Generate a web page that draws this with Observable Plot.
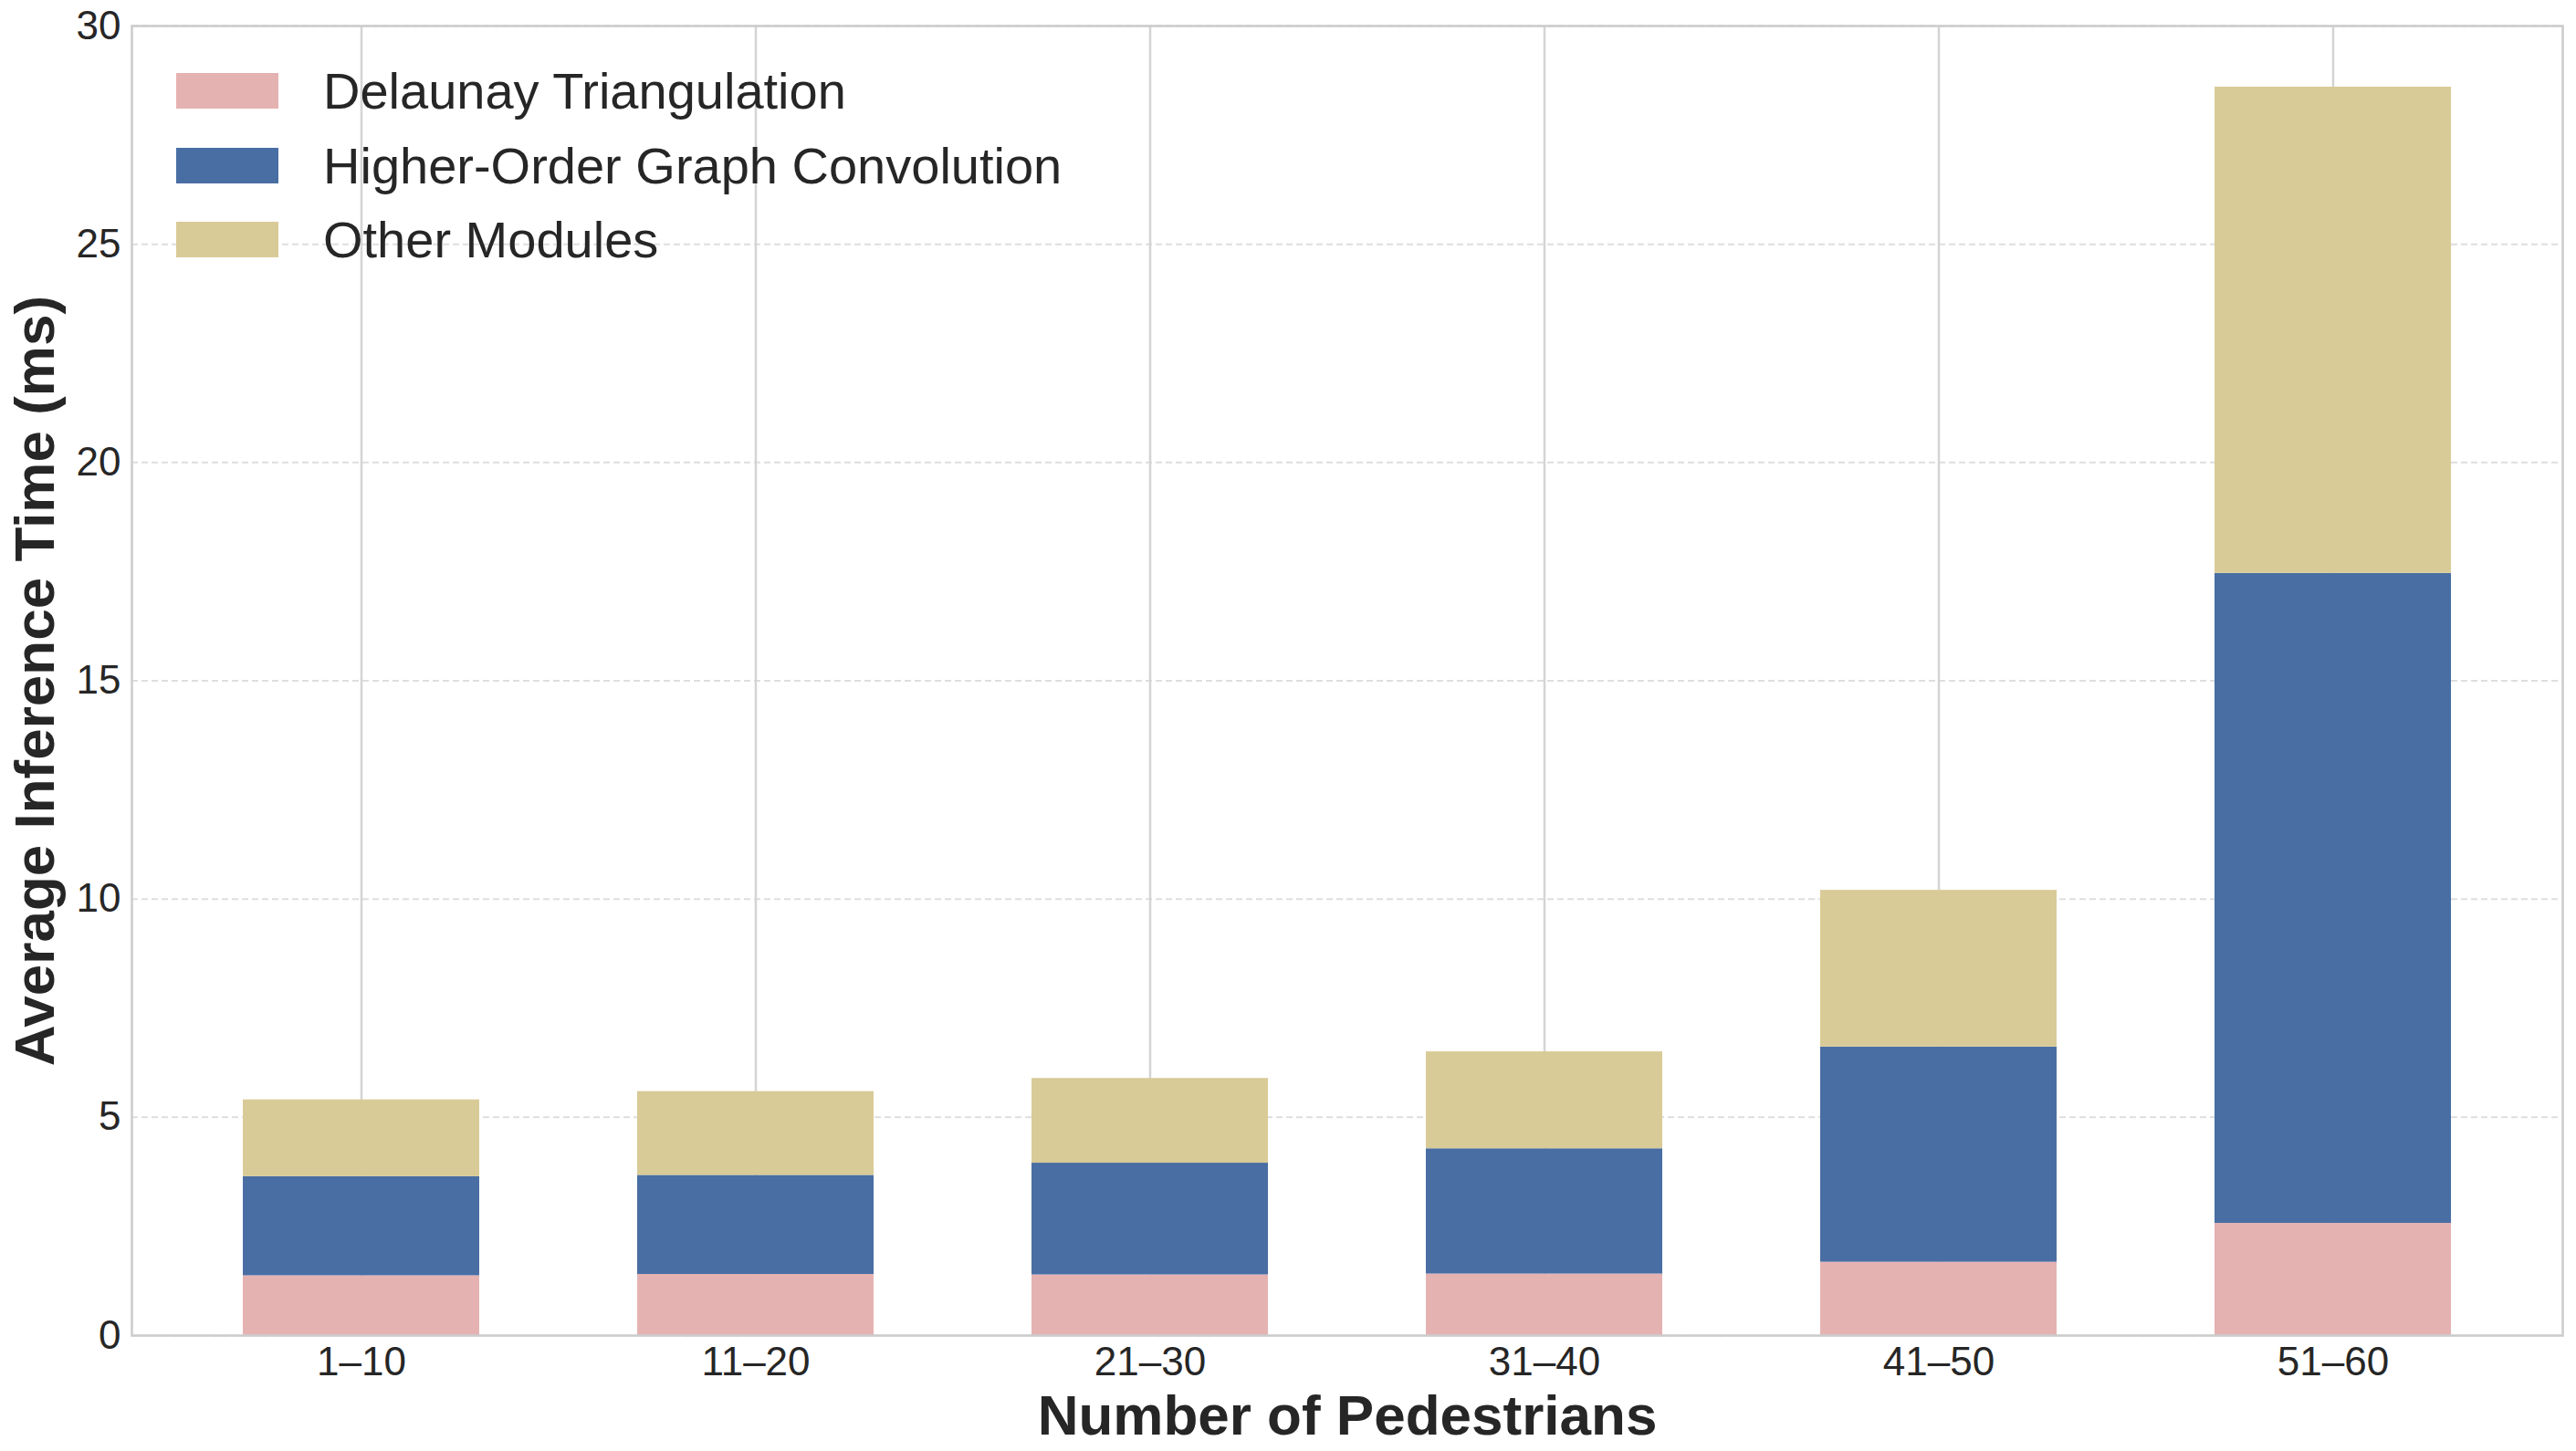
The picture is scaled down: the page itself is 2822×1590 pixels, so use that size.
<!DOCTYPE html>
<html>
<head>
<meta charset="utf-8">
<script src="https://cdn.jsdelivr.net/npm/d3@7"></script>
<script src="https://cdn.jsdelivr.net/npm/@observablehq/plot@0.6"></script>
<style>
  html, body { margin: 0; padding: 0; background: #ffffff; }
  #wrap { position: relative; width: 2822px; height: 1590px; overflow: hidden; }
  #legend { position: absolute; left: 193px; top: 80px; }
  g[aria-label="x-axis label"] text, g[aria-label="y-axis label"] text { font-size: 62px; font-weight: 700; }
  .lg-swatches { font-family: "Liberation Sans", Arial, sans-serif !important; font-size: 56px !important; color: #262626 !important; margin: 0 !important; min-height: 0 !important; }
  .lg-swatch { display: flex !important; align-items: center !important; height: 39px !important; padding-bottom: 42.5px !important; margin: 0 !important; line-height: normal !important; overflow: visible !important; }
  .lg-swatch > * { overflow: visible !important; line-height: normal !important; }
  .lg-swatch > svg { margin-right: 49px !important; flex-shrink: 0; }
</style>
</head>
<body>
<div id="wrap"><div id="chart"></div><div id="legend"></div></div>
<script>
const categories = ["1–10", "11–20", "21–30", "31–40", "41–50", "51–60"];
const seriesNames = ["Delaunay Triangulation", "Higher-Order Graph Convolution", "Other Modules"];
const delaunay = [1.37, 1.40, 1.39, 1.41, 1.68, 2.57];
const hogc     = [2.27, 2.27, 2.56, 2.87, 4.93, 14.89];
const other    = [1.76, 1.92, 1.94, 2.22, 3.59, 11.14];
const seriesColors = ["#e5b2b2", "#496ea3", "#d9cb97"];
const yTicks = [0, 5, 10, 15, 20, 25, 30];

const seriesValues = [delaunay, hogc, other];
const rows = [];
categories.forEach((c, i) => {
  seriesValues.forEach((arr, j) => rows.push({category: c, series: seriesNames[j], value: arr[i]}));
});

const fontFamily = '"Liberation Sans", Arial, sans-serif';

const chart = Plot.plot({
  width: 2822,
  height: 1590,
  marginTop: 28,
  marginRight: 15,
  marginBottom: 127,
  marginLeft: 144,
  style: {fontFamily, fontSize: "44px", color: "#262626", background: "#ffffff", overflow: "visible"},
  x: {type: "band", domain: categories, paddingInner: 0.4, paddingOuter: 0.28, align: 0.5},
  y: {domain: [0, 30]},
  color: {domain: seriesNames, range: seriesColors},
  marks: [
    Plot.gridY(yTicks, {stroke: "#dedede", strokeOpacity: 1, strokeWidth: 2, strokeDasharray: "7,4"}),
    Plot.gridX({stroke: "#d4d4d4", strokeOpacity: 1, strokeWidth: 2.5}),
    Plot.barY(rows, {x: "category", y: "value", fill: "series"}),
    Plot.frame({stroke: "#cccccc", strokeWidth: 2.5}),
    Plot.axisX({tickSize: 0, tickPadding: 12, label: "Number of Pedestrians", labelAnchor: "center", labelOffset: 108, labelArrow: "none", fill: "#262626"}),
    Plot.axisY(yTicks, {tickSize: 0, tickPadding: 12, label: "Average Inference Time (ms)", labelAnchor: "center", labelOffset: 130, labelArrow: "none", fill: "#262626"})
  ]
});
document.getElementById("chart").appendChild(chart);

const legend = Plot.legend({
  color: {domain: seriesNames, range: seriesColors},
  legend: "swatches",
  columns: 1,
  swatchWidth: 112,
  swatchHeight: 39,
  className: "lg",
  style: {fontFamily, fontSize: "56px"}
});
document.getElementById("legend").appendChild(legend);
</script>
</body>
</html>
